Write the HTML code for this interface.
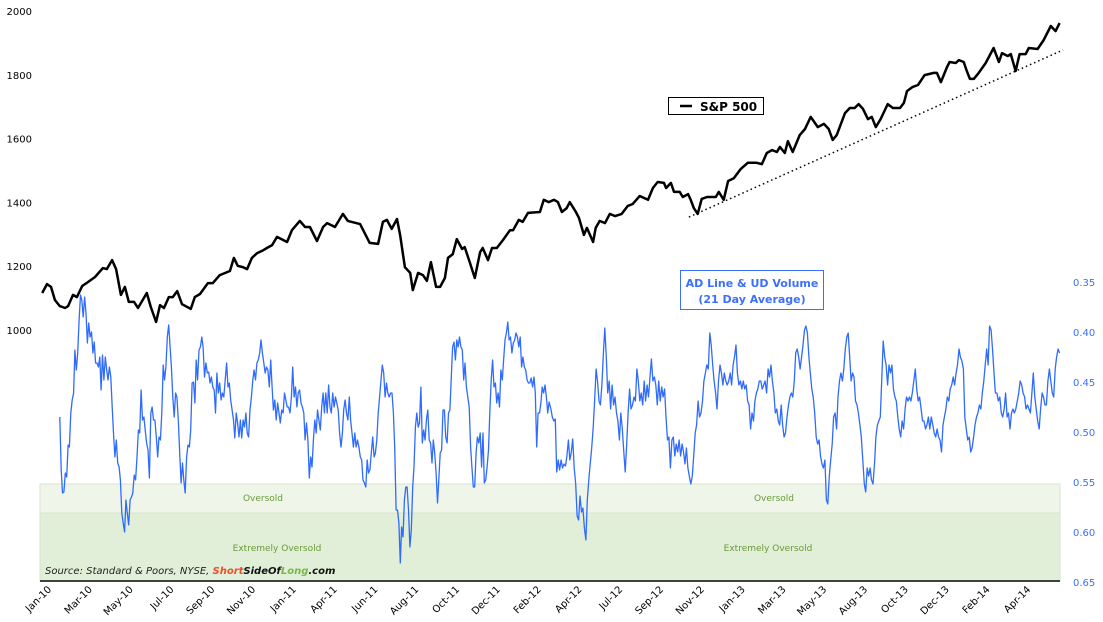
<!DOCTYPE html>
<html><head><meta charset="utf-8">
<style>
html,body{margin:0;padding:0;background:#fff;}
svg{display:block;font-family:"DejaVu Sans","Liberation Sans",sans-serif;}
</style></head>
<body>
<svg id="chart" width="1103" height="622" viewBox="0 0 1103 622" xmlns="http://www.w3.org/2000/svg">
  <rect x="0" y="0" width="1103" height="622" fill="#fff"/>
  <rect x="40" y="484" width="1020" height="29" fill="#eff6e9" stroke="#d8e4d0" stroke-width="1"/>
  <rect x="40" y="513" width="1020" height="68" fill="#e1efd8" stroke="#d8e4d0" stroke-width="1"/>
  <text x="263" y="501" font-size="9" fill="#6a9a3a" text-anchor="middle">Oversold</text>
  <text x="774" y="501" font-size="9" fill="#6a9a3a" text-anchor="middle">Oversold</text>
  <text x="277" y="551" font-size="9" fill="#6a9a3a" text-anchor="middle">Extremely Oversold</text>
  <text x="768" y="551" font-size="9" fill="#6a9a3a" text-anchor="middle">Extremely Oversold</text>
  <g id="yLeft"></g>
  <g id="yRight"></g>
  <g id="xAxis"></g>
  <g id="series"></g>
  <line x1="40" y1="581" x2="1060" y2="581" stroke="#3a463a" stroke-width="2"/>
  <text x="45" y="574" font-size="10" font-style="italic" fill="#222">Source: Standard &amp; Poors, NYSE, <tspan font-weight="bold" fill="#e8502a">Short</tspan><tspan font-weight="bold" fill="#111">SideOf</tspan><tspan font-weight="bold" fill="#7ab648">Long</tspan><tspan font-weight="bold" fill="#111">.com</tspan></text>
  <g>
    <rect x="668.5" y="97.5" width="95" height="17" fill="#fff" stroke="#000" stroke-width="1"/>
    <line x1="680" y1="106" x2="692" y2="106" stroke="#000" stroke-width="2.5"/>
    <text x="700" y="111" font-size="12" font-weight="bold" fill="#000">S&amp;P 500</text>
  </g>
  <g>
    <rect x="680.5" y="270.5" width="143" height="39" fill="#fff" stroke="#3d6fff" stroke-width="1"/>
    <text x="752" y="287" font-size="11" font-weight="bold" fill="#3d6fff" text-anchor="middle">AD Line &amp; UD Volume</text>
    <text x="752" y="303" font-size="11" font-weight="bold" fill="#3d6fff" text-anchor="middle">(21 Day Average)</text>
  </g>
</svg>
<script>
const xLabels = ["Jan-10","Mar-10","May-10","Jul-10","Sep-10","Nov-10","Jan-11","Apr-11","Jun-11","Aug-11","Oct-11","Dec-11","Feb-12","Apr-12","Jul-12","Sep-12","Nov-12","Jan-13","Mar-13","May-13","Aug-13","Oct-13","Dec-13","Feb-14","Apr-14"];
const leftTicks = [2000,1800,1600,1400,1200,1000];
const rightTicks = [0.35,0.40,0.45,0.50,0.55,0.60,0.65];
const spWeeks = [0.5,1.6,2.5,3.4,4.5,5.7,6.4,7.5,8.4,9.6,10.9,12.5,14.3,15.2,16.4,17.3,18.4,19.3,20.2,21.4,22.3,24.3,25.2,26.4,27.3,28.2,29.3,30.2,31.2,32.3,34.3,35.2,36.4,38.2,39.3,40.9,43.2,44.1,45.0,46.2,47.1,48.2,49.4,50.5,51.6,52.8,53.9,56.2,57.3,59.1,60.3,61.4,63.0,64.4,65.3,67.1,68.9,70.0,72.8,75.0,76.9,78.0,78.9,80.0,81.2,81.9,83.0,84.2,84.8,86.0,87.1,88.0,88.9,90.1,91.0,92.1,92.8,93.9,94.8,96.0,96.6,97.8,98.9,100.1,100.7,101.9,102.8,103.9,105.3,106.9,107.6,108.9,109.8,111.0,113.7,114.6,115.7,116.9,117.8,118.7,119.8,120.5,121.9,122.6,123.7,124.4,125.8,126.4,127.3,128.5,129.6,130.8,132.3,133.7,134.8,136.4,138.3,139.4,140.5,141.9,142.4,143.5,144.2,145.5,146.2,147.4,148.0,148.7,149.6,150.5,151.7,153.7,154.4,155.5,156.5,157.8,159.4,161.0,163.0,164.2,165.3,166.5,167.6,168.3,169.4,170.1,171.2,172.8,174.0,175.3,176.9,178.3,179.4,180.3,181.2,183.1,184.2,185.3,186.2,187.2,188.3,189.2,190.1,191.2,192.8,194.0,195.6,196.5,197.2,198.5,199.7,201.2,203.3,204.0,204.9,206.3,206.9,208.3,209.0,210.1,210.8,211.5,212.4,213.5,215.1,216.9,218.1,218.8,220.1,220.8,221.9,222.8,224.2,224.9,226.9,228.3,229.9,231.0,231.9];
const spValues = [1116,1144,1135,1094,1075,1069,1075,1110,1103,1138,1150,1166,1194,1191,1219,1191,1110,1135,1088,1088,1069,1116,1072,1025,1078,1069,1103,1103,1122,1081,1066,1103,1113,1147,1147,1172,1185,1226,1201,1197,1191,1226,1241,1248,1257,1266,1292,1276,1313,1342,1323,1323,1279,1323,1335,1323,1364,1342,1332,1273,1270,1339,1345,1317,1348,1298,1197,1179,1125,1179,1172,1154,1213,1135,1135,1163,1226,1238,1285,1254,1260,1210,1163,1244,1257,1219,1257,1257,1282,1313,1313,1345,1339,1367,1370,1408,1401,1408,1401,1370,1382,1401,1370,1351,1298,1320,1276,1320,1342,1335,1364,1357,1364,1389,1395,1420,1408,1445,1464,1461,1445,1461,1433,1433,1417,1426,1408,1382,1364,1411,1417,1417,1433,1408,1467,1476,1505,1524,1524,1520,1555,1564,1558,1574,1555,1592,1558,1611,1630,1668,1636,1646,1630,1596,1611,1680,1696,1696,1708,1693,1661,1668,1636,1661,1708,1696,1696,1712,1749,1762,1768,1799,1806,1806,1777,1824,1840,1837,1846,1840,1812,1787,1787,1806,1837,1884,1840,1868,1859,1865,1812,1865,1865,1884,1881,1909,1953,1937,1962];
const trendWeeks = [147.6,232.7];
const trendValues = [1354,1878];
const adSpanA = [4.5,115.8];
const adValuesA = [.485,.538,.561,.560,.541,.545,.513,.515,.481,.468,.461,.418,.438,.421,.388,.363,.368,.385,.365,.381,.411,.391,.405,.400,.421,.410,.431,.431,.435,.425,.458,.423,.448,.425,.438,.448,.435,.445,.475,.501,.525,.508,.531,.535,.548,.581,.591,.600,.568,.581,.593,.568,.565,.561,.543,.548,.525,.498,.501,.458,.488,.485,.498,.511,.518,.546,.481,.475,.488,.488,.505,.525,.505,.508,.481,.433,.448,.435,.405,.393,.415,.435,.465,.485,.461,.465,.488,.521,.551,.531,.548,.561,.525,.513,.515,.498,.451,.450,.471,.428,.448,.418,.415,.405,.415,.445,.431,.441,.440,.451,.445,.455,.458,.481,.441,.461,.451,.468,.461,.465,.448,.431,.455,.451,.468,.478,.488,.506,.481,.491,.505,.488,.506,.488,.495,.481,.501,.505,.478,.465,.448,.438,.448,.431,.428,.421,.408,.421,.431,.441,.435,.438,.455,.428,.455,.478,.468,.488,.471,.481,.491,.478,.481,.461,.468,.475,.475,.481,.465,.435,.465,.455,.475,.461,.458,.471,.475,.481,.508,.491,.508,.546,.525,.535,.508,.488,.501,.478,.488,.498,.475,.461,.481,.461,.481,.453,.475,.481,.461,.475,.465,.471,.478,.501,.515,.501,.478,.468,.481,.488,.465,.488,.501,.515,.501,.515,.508,.515,.525,.528,.548,.551,.555,.528,.541,.538,.521,.505,.525,.521,.508,.481,.465,.448,.433,.441,.465,.451,.461,.465,.461,.461,.481,.515,.578,.578,.591,.631,.595,.605,.568,.555,.555,.578,.615,.598,.555,.535,.495,.481,.495,.491,.455,.511,.498,.508,.488,.478,.508,.511,.531,.508,.521,.541,.571,.548,.521,.518,.478,.478,.505,.511,.481,.478,.445,.415,.410,.428,.408,.415,.405,.415,.418,.448,.431,.455,.465,.475,.515,.535,.555,.555,.521,.505,.511,.501,.535,.501,.551,.548,.535,.518,.481,.448,.428,.455,.451,.471,.461,.475,.438,.448,.428,.408,.401,.390,.408,.405,.421,.411,.408,.401,.405,.415,.405,.435,.425,.435,.438,.448,.451,.451,.446,.455,.445,.461,.515,.481,.481,.471,.455,.461,.453,.465,.481,.470];
const adSpanB = [116.2,231.9];
const adValuesB = [.477,.485,.489,.487,.540,.528,.538,.528,.536,.532,.534,.524,.508,.528,.520,.507,.536,.552,.584,.588,.564,.580,.576,.596,.608,.568,.548,.532,.516,.497,.469,.437,.449,.469,.473,.453,.421,.396,.425,.461,.449,.477,.453,.473,.465,.481,.489,.508,.481,.497,.520,.540,.512,.481,.457,.477,.473,.465,.469,.437,.449,.469,.461,.473,.449,.469,.453,.465,.445,.427,.449,.445,.453,.473,.449,.469,.455,.465,.457,.485,.508,.505,.536,.508,.505,.524,.512,.520,.508,.524,.512,.520,.532,.516,.536,.544,.552,.544,.524,.501,.493,.469,.485,.481,.469,.449,.441,.433,.437,.401,.413,.433,.449,.461,.477,.449,.433,.441,.453,.441,.449,.453,.449,.441,.453,.433,.425,.413,.441,.453,.449,.457,.449,.457,.453,.469,.473,.497,.481,.489,.469,.461,.457,.449,.449,.457,.453,.449,.461,.437,.445,.433,.449,.461,.481,.477,.489,.493,.473,.493,.505,.501,.485,.473,.465,.461,.465,.449,.421,.417,.425,.437,.425,.413,.398,.394,.401,.425,.441,.457,.465,.481,.505,.512,.508,.524,.532,.536,.528,.568,.572,.544,.528,.512,.485,.481,.497,.465,.449,.441,.449,.437,.417,.405,.401,.425,.449,.441,.445,.469,.473,.481,.493,.505,.528,.552,.560,.536,.544,.536,.548,.552,.532,.505,.493,.489,.485,.449,.409,.425,.433,.453,.433,.441,.433,.457,.465,.469,.485,.497,.505,.489,.497,.477,.465,.469,.465,.469,.461,.449,.437,.457,.469,.465,.477,.489,.489,.497,.493,.485,.497,.485,.493,.501,.505,.497,.505,.508,.520,.493,.485,.477,.465,.469,.457,.453,.445,.453,.441,.433,.417,.425,.429,.437,.485,.497,.508,.505,.520,.516,.505,.493,.485,.481,.473,.477,.461,.449,.433,.417,.433,.394,.398,.417,.441,.461,.461,.469,.465,.481,.485,.477,.461,.485,.481,.497,.481,.477,.481,.477,.469,.461,.449,.453,.461,.465,.477,.473,.477,.481,.461,.441,.465,.477,.489,.497,.477,.461,.465,.473,.473,.449,.437,.449,.461,.465,.437,.425,.417,.421];

const NS = "http://www.w3.org/2000/svg";
const X0 = 40, X1 = 1060, W0 = 0, W1 = 232;
function xScale(w){ return X0 + (w - W0) / (W1 - W0) * (X1 - X0); }
function yLeft(v){ return 11 + (2000 - v) / 1000 * 319; }
function yRight(v){ return 282 + (v - 0.35) / 0.30 * 300; }
function mk(tag, attrs, parent){ const e = document.createElementNS(NS, tag); for (const k in attrs) e.setAttribute(k, attrs[k]); parent.appendChild(e); return e; }

const gL = document.getElementById('yLeft');
leftTicks.forEach(v => {
  const t = mk('text', {x: 32, y: yLeft(v) + 4, 'font-size': 10, 'text-anchor': 'end', fill: '#000'}, gL);
  
  
  t.textContent = String(v);
});
const gR = document.getElementById('yRight');
rightTicks.forEach(v => {
  const t = mk('text', {x: 1073, y: yRight(v) + 4, 'font-size': 10, fill: '#3d6fff'}, gR);
  
  
  t.textContent = v.toFixed(2);
});
const gX = document.getElementById('xAxis');
xLabels.forEach((lab, i) => {
  const xe = 52 + i * 40.8, ye = 590;
  const t = mk('text', {x: xe, y: ye, 'font-size': 10, 'text-anchor': 'end', fill: '#000', transform: 'rotate(-45 ' + xe + ' ' + ye + ')'}, gX);
  
  
  t.textContent = lab;
});

const gS = document.getElementById('series');
function adPath(vals, span){
  const n = vals.length;
  return vals.map((v, i) => (i ? 'L' : 'M') + xScale(span[0] + (span[1] - span[0]) * i / (n - 1)).toFixed(1) + ' ' + yRight(v).toFixed(1)).join(' ');
}
const ad = mk('path', {d: adPath(adValuesA, adSpanA) + ' ' + adPath(adValuesB, adSpanB).replace(/^M/, 'L'), fill: 'none', stroke: '#2f6bff', 'stroke-width': 1.3, 'stroke-linejoin': 'round'}, gS);



const tr = mk('line', {x1: xScale(trendWeeks[0]), y1: yLeft(trendValues[0]), x2: xScale(trendWeeks[1]), y2: yLeft(trendValues[1]), stroke: '#000', 'stroke-width': 1.5, 'stroke-dasharray': '1.5 3'}, gS);



const sp = mk('path', {d: spValues.map((v, i) => (i ? 'L' : 'M') + xScale(spWeeks[i]).toFixed(1) + ' ' + yLeft(v).toFixed(1)).join(' '), fill: 'none', stroke: '#000', 'stroke-width': 2.5, 'stroke-linejoin': 'round'}, gS);


</script>
</body></html>
